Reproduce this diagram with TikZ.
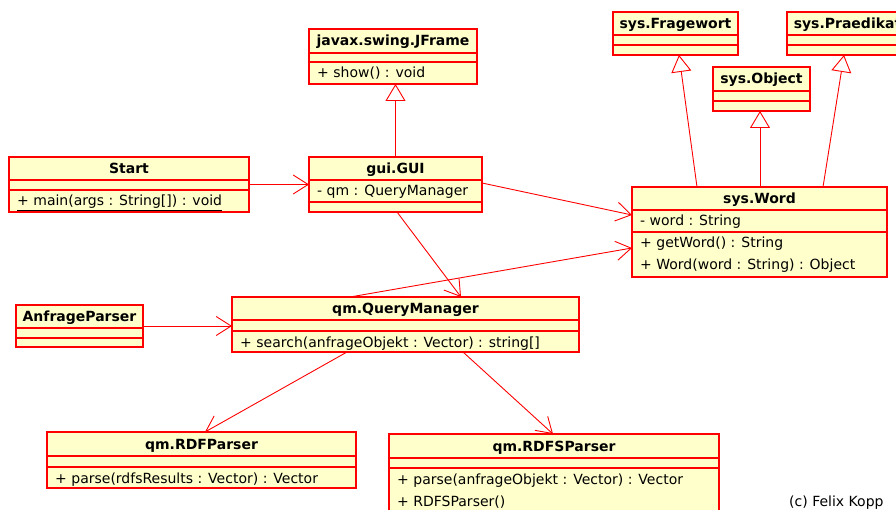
\documentclass[tikz,border=0pt]{standalone}
\usepackage{fontspec}
\setmainfont{DejaVu Sans}
\usetikzlibrary{arrows.meta,calc}

\definecolor{umlfill}{RGB}{255,255,204}
\definecolor{umlred}{RGB}{255,0,0}

\tikzset{
  classbox/.style={rectangle, draw=umlred, fill=umlfill, line width=1.4pt,
    inner sep=0pt, outer sep=0pt, anchor=north west},
  rowline/.style={draw=umlred, line width=1.4pt},
  ctitle/.style={font=\fontsize{14}{16}\selectfont\bfseries, inner sep=0pt,
    text height=10pt, text depth=0pt},
  cmember/.style={font=\fontsize{14}{16}\selectfont, inner sep=0pt,
    text height=10pt, text depth=0pt, anchor=west},
  assoc/.style={draw=umlred, line width=0.9pt,
    -{Straight Barb[length=15pt,width=19pt]}},
  inherit/.style={draw=umlred, line width=0.9pt,
    -{Triangle[length=17pt,width=20pt,fill=white]}},
}

% class box: name, x1, y1, x2, y2, first row line, second row line, title
\newcommand{\umlclass}[8]{%
  \node[classbox, minimum width={#4-#2}, minimum height={#5-#3}] (#1) at (#2,#3) {};
  \draw[rowline] (#2,#6) -- (#4,#6) (#2,#7) -- (#4,#7);
  \node[ctitle] (#1-t) at ($(#1.north)+(0,{(#6-#3)/2})$) {#8};
}

\begin{document}
\begin{tikzpicture}[x=1pt,y=-1pt]
\useasboundingbox (0,0) rectangle (896,510);
\fill[white] (0,0) rectangle (896,510);
\clip (0,0) rectangle (896,510);

% classes
\umlclass{jframe}{309}{29}{477}{84}{53}{62}{javax.swing.JFrame}
\umlclass{start}{9}{157}{249}{212}{180}{190}{Start}
\umlclass{gui}{309}{157}{482}{212}{180}{202}{gui.GUI}
\umlclass{fragewort}{613}{12}{738}{55}{35}{45}{sys.Fragewort}
\umlclass{praedikat}{787}{12}{908}{55}{35}{45}{sys.Praedikat}
\umlclass{object}{713}{67}{810}{111}{91}{101}{sys.Object}
\umlclass{word}{632}{187}{887}{277}{210}{232}{sys.Word}
\umlclass{anfrage}{16}{305}{143}{347}{328}{338}{AnfrageParser}
\umlclass{qm}{232}{297}{579}{352}{320}{331}{qm.QueryManager}
\umlclass{rdf}{47}{432}{356}{488}{456}{467}{qm.RDFParser}
\umlclass{rdfs}{389}{434}{719}{530}{458}{468}{qm.RDFSParser}

% attributes and operations
\node[cmember] (jframe-m1) at (317,73) {+ show() : void};
\node[cmember] (start-m1) at (17,201) {\underline{+ main(args : String[]) : void}};
\node[cmember] (gui-a1) at (317,191) {- qm : QueryManager};
\node[cmember] (word-a1) at (640,221) {- word : String};
\node[cmember] (word-m1) at (640,243) {+ getWord() : String};
\node[cmember] (word-m2) at (640,265) {+ Word(word : String) : Object};
\node[cmember] (qm-m1) at (240,342) {+ search(anfrageObjekt : Vector) : string[]};
\node[cmember] (rdf-m1) at (55,478) {+ parse(rdfsResults : Vector) : Vector};
\node[cmember] (rdfs-m1) at (397,479) {+ parse(anfrageObjekt : Vector) : Vector};
\node[cmember] (rdfs-m2) at (397,501) {+ RDFSParser()};

% generalizations
\draw[inherit] (gui.north) -- (gui.north |- jframe.south);
\draw[inherit] ($(word.north west)+(65,0)$) -- ($(fragewort.south west)+(66,0)$);
\draw[inherit] ($(word.north west)+(128,0)$) -- ($(object.south west)+(47,0)$);
\draw[inherit] ($(word.north west)+(191,0)$) -- ($(praedikat.south west)+(57,0)$);

% associations
\draw[assoc] (start.east) -- (start.east -| gui.west);
\draw[assoc] (anfrage.east) -- (anfrage.east -| qm.west);
\draw[assoc] ($(gui.north east)+(0,26)$) -- ($(word.north west)+(0,28)$);
\draw[assoc] ($(gui.south west)+(88,0)$) -- ($(qm.north west)+(229,0)$);
\draw[assoc] ($(qm.north west)+(118,0)$) -- ($(word.north west)+(0,61)$);
\draw[assoc] ($(qm.south west)+(115,0)$) -- ($(rdf.north west)+(158,0)$);
\draw[assoc] ($(qm.south west)+(231,0)$) -- ($(rdfs.north west)+(164,0)$);

% credit
\node[cmember] (credit) at (789,501) {(c) Felix Kopp};
\end{tikzpicture}
\end{document}
